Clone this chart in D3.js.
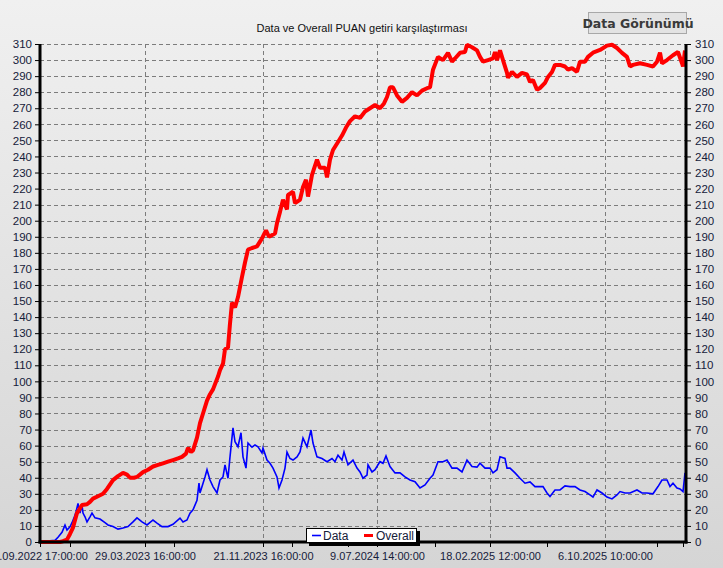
<!DOCTYPE html>
<html>
<head>
<meta charset="utf-8">
<script src="https://cdn.jsdelivr.net/npm/d3@7"></script>
<style>
  html, body { margin: 0; padding: 0; background: #e4e4e4; }
  svg { display: block; }
</style>
</head>
<body>
<div id="chart"></div>
<script>
// bar number (2 bars per screen step) and value
const overall = [
  [0,0],[40,0],[46,0.5],[54,1.5],[60,5],[66,9],[74,18],[80,21],[84,23],[94,23.5],[100,25],[106,27],
  [116,28.5],[126,30],[134,33],[146,38.5],[156,41],[166,43],[174,42],[180,40],[188,40],[194,40.5],
  [206,43.5],[216,45],[226,47],[236,48],[246,49],[256,50],[266,51],[276,52],[284,53],[292,55],
  [296,58.5],[302,56],[306,57],[314,65],[320,74],[326,80],[334,88],[340,92],[346,95],[356,103],
  [360,107],[366,111],[370,120],[376,121],[380,136],[384,149],[390,146],[396,152.5],[404,165],
  [410,174],[416,182],[424,183],[434,184],[444,189],[452,194],[458,190],[470,192],[474,198.5],
  [480,205.5],[486,213],[494,207],[496,216],[506,218],[510,211],[520,213],[526,221],[532,225.5],
  [536,215],[544,228.5],[554,238],[560,233],[570,233],[574,227],[580,238],[586,244],[596,249],
  [604,253],[612,258],[620,262],[630,265],[640,264],[650,268],[660,270],[670,272],[680,270],
  [688,273],[694,277],[700,283],[706,283],[714,278],[724,274],[734,276.5],[744,280],[754,278],
  [764,281],[774,282.5],[780,283],[786,294],[796,302],[806,300],[816,304.5],[824,299],[830,301],
  [840,304.5],[850,305],[854,309.5],[864,308],[874,306],[880,302],[886,299],[896,300],[906,301],
  [910,305],[914,300],[920,306],[926,300],[934,292],[936,289],[944,292.6],[954,289.5],[964,292],
  [974,291],[980,286.4],[986,287.6],[994,281.5],[1000,282.6],[1010,285.8],[1016,289.5],
  [1024,292.6],[1030,297],[1040,297],[1050,296],[1056,294],[1064,295],[1074,292.7],[1080,299],
  [1090,299],[1096,302],[1106,304.6],[1120,306.3],[1134,309],[1144,309.5],[1154,307.5],
  [1164,304.5],[1174,302],[1180,296],[1186,297],[1200,298],[1214,297],[1226,296],[1234,299],
  [1240,304.6],[1244,298],[1254,300],[1266,303],[1276,305],[1284,298],[1286,296],[1290,306]
];

const dataSeries = [
  [0,0.8],[20,0.8],[30,1],[36,3],[44,6],[50,10.5],[54,7.5],[60,9.5],[64,12],[68,15],[72,18.7],
  [76,24],[80,18],[84,23],[86,18],[90,15.7],[94,12.5],[100,15.7],[104,18],[110,15],[120,14.3],
  [130,12],[136,10.6],[146,9.6],[156,8],[166,8.7],[176,9.6],[186,12.5],[194,15],[204,12.5],
  [214,10.6],[226,13.7],[234,11.8],[244,9.6],[256,9.6],[266,11],[280,14.9],[286,12.5],[294,13.7],
  [300,18],[306,20],[314,26],[318,36.6],[320,30.5],[330,40.5],[334,45],[340,38.6],[346,34.5],
  [354,30.5],[360,38.6],[366,40.5],[370,48],[376,39.7],[380,53],[386,71],[390,62.4],[396,59.3],
  [402,68],[406,53],[412,46],[416,61.6],[424,59],[430,60.4],[436,59.3],[444,55.4],[446,58.5],
  [454,51],[460,49],[466,46],[474,40.5],[478,33.6],[484,38.6],[490,46],[494,56],[500,52],
  [506,51],[514,53],[520,56],[526,64.7],[534,59.3],[542,69.7],[546,61.6],[554,53],[564,52],
  [574,50],[584,52],[590,50],[596,54],[604,51],[608,56],[616,48],[626,51],[634,46],[640,43.6],
  [646,39.7],[654,41.7],[656,48],[664,43.6],[670,45],[680,50],[686,49],[692,53.6],[700,47],
  [710,43],[720,43],[730,40.5],[740,38.6],[750,37.5],[760,33.6],[770,35.5],[780,39.7],[786,41.7],
  [796,50],[806,50],[814,51],[824,46],[834,46],[844,43.6],[854,51],[864,47],[874,46.6],[880,49],
  [890,46],[900,46],[906,43],[914,45],[920,53],[930,52],[934,46],[940,46],[950,43],[960,39.7],
  [970,36.6],[980,37.4],[990,34.5],[1006,34.5],[1014,30.5],[1020,28.3],[1030,32.4],[1040,32.4],
  [1050,34.9],[1060,34.5],[1070,34.5],[1080,32.4],[1090,31.4],[1100,29.3],[1106,28],[1114,32.4],
  [1124,30.5],[1134,28],[1144,26.8],[1154,29.3],[1160,31.4],[1170,30.5],[1180,30.5],[1194,32.4],
  [1204,30.5],[1214,30.5],[1226,30],[1236,34.5],[1244,38.6],[1254,38.6],[1260,34.5],[1266,36.6],
  [1274,33.6],[1280,33],[1286,31.4],[1290,43]
];

const barCount = 1292;
const xLabelBars = [0, 210, 446, 674, 900, 1130];
const xLabels = ['2.09.2022 17:00:00', '29.03.2023 16:00:00', '21.11.2023 16:00:00',
  '9.07.2024 14:00:00', '18.02.2025 12:00:00', '6.10.2025 10:00:00'];
const xMinorBars = [60, 268, 504, 616, 790, 1014, 1234, 1286];
const yTicks = d3.range(0, 311, 10);

const totalW = 723, totalH = 568;
const margin = { top: 44, right: 37, bottom: 26, left: 40 };
const W = totalW - margin.left - margin.right;
const H = totalH - margin.top - margin.bottom;
const font = "'Liberation Sans', Arial, sans-serif";
const labelColor = '#15203a';

const svg = d3.select('#chart').append('svg')
  .attr('width', totalW).attr('height', totalH);

const grad = svg.append('defs').append('linearGradient')
  .attr('id', 'bg').attr('x1', 0).attr('y1', 0).attr('x2', 0).attr('y2', 1);
grad.append('stop').attr('offset', '0%').attr('stop-color', '#f0f0f0');
grad.append('stop').attr('offset', '100%').attr('stop-color', '#d5d5d5');

svg.append('rect').attr('width', totalW).attr('height', totalH).attr('fill', 'url(#bg)');

// title + button
svg.append('text')
  .attr('x', 362).attr('y', 32).attr('text-anchor', 'middle')
  .attr('font-family', font).attr('font-size', '11px').attr('fill', '#111')
  .text('Data ve Overall PUAN getiri karşılaştırması');

const btn = svg.append('g').attr('transform', 'translate(588,12)');
btn.append('rect').attr('x', 0.5).attr('y', 0.5).attr('width', 98).attr('height', 21)
  .attr('fill', '#e3e3e3').attr('stroke', '#a8a8a8');
btn.append('text').attr('x', 50).attr('y', 15.5).attr('text-anchor', 'middle')
  .attr('font-family', "'DejaVu Sans', Verdana, sans-serif").attr('font-weight', 'bold')
  .attr('font-size', '12.5px').attr('fill', '#3a3a3a')
  .text('Data Görünümü');

const g = svg.append('g').attr('transform', `translate(${margin.left},${margin.top})`);

const x = d3.scaleLinear().domain([0, barCount]).range([0, W]);
const y = d3.scaleLinear().domain([0, 310]).range([H, 0]);

// Grid
g.append('g').selectAll('line')
  .data(yTicks.slice(1)).enter().append('line')
  .attr('x1', 0).attr('x2', W)
  .attr('y1', d => Math.round(y(d)) + 0.5).attr('y2', d => Math.round(y(d)) + 0.5)
  .attr('stroke', '#7c7c7c').attr('stroke-dasharray', '4,3');

g.append('g').selectAll('line')
  .data(xLabelBars.slice(1)).enter().append('line')
  .attr('x1', d => Math.round(x(d)) + 0.5).attr('x2', d => Math.round(x(d)) + 0.5)
  .attr('y1', 0).attr('y2', H)
  .attr('stroke', '#7c7c7c').attr('stroke-dasharray', '4,3');

// Lines
const line = d3.line().x(d => x(d[0])).y(d => y(d[1]));

g.append('path').datum(dataSeries)
  .attr('d', line).attr('fill', 'none')
  .attr('stroke', '#0000ff').attr('stroke-width', 1.6);

g.append('path').datum(overall)
  .attr('d', line).attr('fill', 'none')
  .attr('stroke', '#ff0000').attr('stroke-width', 4).attr('stroke-linejoin', 'bevel');

// Axes
function styleAxis(sel, size) {
  sel.select('.domain').remove();
  sel.selectAll('.tick line').attr('stroke', '#000');
  sel.selectAll('.tick text').attr('fill', labelColor)
    .attr('font-family', font).attr('font-size', size);
}

const yLeft = g.append('g').call(d3.axisLeft(y).tickValues(yTicks).tickSize(5).tickPadding(3));
styleAxis(yLeft, '11.5px');
const yRight = g.append('g').attr('transform', `translate(${W},0)`)
  .call(d3.axisRight(y).tickValues(yTicks).tickSize(5).tickPadding(4));
styleAxis(yRight, '11.5px');

const xAxis = g.append('g').attr('transform', `translate(0,${H})`)
  .call(d3.axisBottom(x).tickValues(xLabelBars).tickSize(5).tickPadding(5)
    .tickFormat((d, i) => xLabels[i]));
styleAxis(xAxis, '11px');

g.append('g').attr('transform', `translate(0,${H})`).selectAll('line')
  .data(xMinorBars).enter().append('line')
  .attr('x1', d => Math.round(x(d)) + 0.5).attr('x2', d => Math.round(x(d)) + 0.5)
  .attr('y1', 0).attr('y2', 5).attr('stroke', '#000');

g.append('line').attr('x1', 0).attr('x2', 0).attr('y1', 0).attr('y2', H + 1.5)
  .attr('stroke', '#000').attr('stroke-width', 3);
g.append('line').attr('x1', W).attr('x2', W).attr('y1', 0).attr('y2', H + 1.5)
  .attr('stroke', '#000').attr('stroke-width', 3);
g.append('line').attr('x1', -1.5).attr('x2', W + 1.5).attr('y1', H).attr('y2', H)
  .attr('stroke', '#000').attr('stroke-width', 3);

// Legend
const legend = svg.append('g').attr('transform', 'translate(306,528)');
legend.append('rect').attr('x', 3).attr('y', 3).attr('width', 111).attr('height', 15).attr('fill', '#000');
legend.append('rect').attr('x', 0.5).attr('y', 0.5).attr('width', 110).attr('height', 14)
  .attr('fill', '#fff').attr('stroke', '#000');
[['Data', '#0000ff', 1.6, 6, 17], ['Overall', '#ff0000', 3, 58, 70]].forEach(([label, color, w, x0, tx]) => {
  legend.append('line').attr('x1', x0).attr('x2', x0 + 9).attr('y1', 7.5).attr('y2', 7.5)
    .attr('stroke', color).attr('stroke-width', w);
  legend.append('text').attr('x', tx).attr('y', 12)
    .attr('font-family', font).attr('font-size', '12px').attr('fill', labelColor)
    .text(label);
});
</script>
</body>
</html>
